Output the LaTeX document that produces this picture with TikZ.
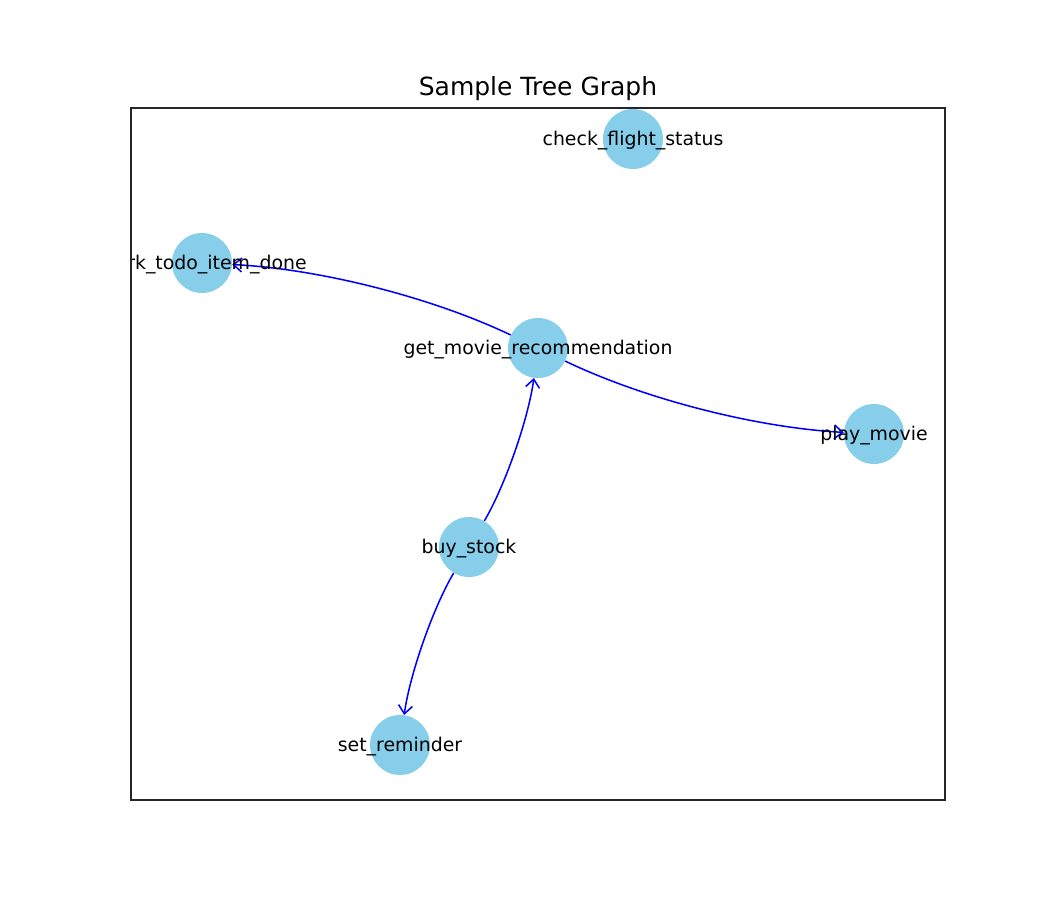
\documentclass[tikz,border=0pt]{standalone}
\usepackage{fontspec}
\setmainfont{DejaVu Sans}
\usetikzlibrary{arrows.meta}
\definecolor{skyblue}{HTML}{87CEEB}
\definecolor{axcol}{HTML}{262626}
\tikzset{
  vtx/.style={circle, fill=skyblue, minimum size=43.2pt, inner sep=0pt},
  lbl/.style={font=\fontsize{13.6pt}{16pt}\selectfont, inner sep=0pt, text=black, yshift=-1pt},
  edge/.style={draw=blue, line width=1.1pt, -{Straight Barb[length=6pt,width=10pt,line width=1.1pt]}},
  axbox/.style={draw=axcol, line width=0.9pt}
}
\begin{document}
\begin{tikzpicture}[x=0.72pt,y=-0.72pt]
\useasboundingbox (0,0) rectangle (1050,900);
\node[font=\fontsize{18pt}{21pt}\selectfont, inner sep=0pt, yshift=-1.5pt] (title) at (538,87) {Sample Tree Graph};
\begin{scope}
\clip (131,108) rectangle (945,800);
\node[vtx] (cf) at (633,139) {};
\node[vtx] (mk) at (202,263) {};
\node[vtx] (gm) at (538,348) {};
\node[vtx] (pm) at (874,434) {};
\node[vtx] (bs) at (469,547) {};
\node[vtx] (sr) at (400,745) {};
\draw[edge] (gm) .. controls (431.7,297.3) and (319.7,268.9) .. (mk);
\draw[edge] (gm) .. controls (644.3,399.1) and (756.3,427.7) .. (pm);
\draw[edge] (bs) .. controls (505.3,485.3) and (528.3,418.9) .. (gm);
\draw[edge] (bs) .. controls (432.8,608.4) and (409.8,674.4) .. (sr);
\node[lbl] (cf-l) at (cf) {check\_flight\_status};
\node[lbl] (mk-l) at (mk) {mark\_todo\_item\_done};
\node[lbl] (gm-l) at (gm) {get\_movie\_recommendation};
\node[lbl] (pm-l) at (pm) {play\_movie};
\node[lbl] (bs-l) at (bs) {buy\_stock};
\node[lbl] (sr-l) at (sr) {set\_reminder};
\end{scope}
\draw[axbox] (131,108) rectangle (945,800);
\end{tikzpicture}
\end{document}
